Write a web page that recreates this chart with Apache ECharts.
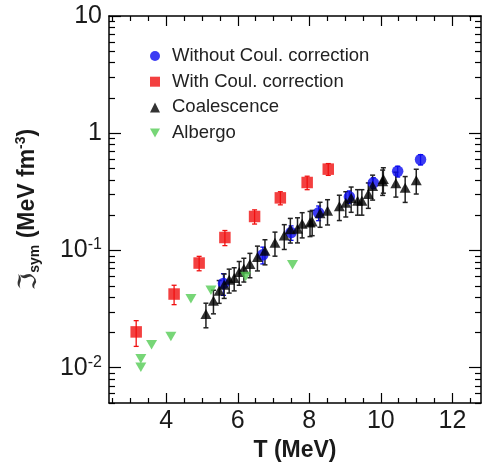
<!DOCTYPE html>
<html>
<head>
<meta charset="utf-8">
<script src="https://cdn.jsdelivr.net/npm/echarts@6/dist/echarts.min.js"></script>
<style>
  html, body { margin: 0; padding: 0; background: #fff; }
  #chart { width: 482px; height: 463px; }
</style>
</head>
<body>
<div id="chart"></div>
<script>
// Temperature T (MeV) and symmetry-energy density values (MeV fm^-3)
const blueT   = [5.60, 6.70, 7.49, 8.26, 9.12, 9.79, 10.47, 11.11];
const blueVal = [0.0524, 0.0918, 0.142, 0.2095, 0.287, 0.377, 0.473, 0.596];
const blueErr = [0.011, 0.015, 0.02, 0.03, 0.035, 0.04, 0.05, 0.06];

const redT   = [3.16, 4.22, 4.92, 5.64, 6.47, 7.19, 7.94, 8.53];
const redVal = [0.0202, 0.0425, 0.0781, 0.129, 0.195, 0.281, 0.380, 0.494];
const redErr = [0.005, 0.008, 0.011, 0.019, 0.027, 0.036, 0.05, 0.057];

const blackT   = [5.11, 5.32, 5.48, 5.62, 5.76, 5.90, 6.04, 6.17, 6.34, 6.55, 6.76, 7.04,
                  7.30, 7.47, 7.67, 7.80, 8.02, 8.08, 8.30, 8.51, 8.84, 9.02, 9.17, 9.35,
                  9.47, 9.65, 9.77, 10.05, 10.07, 10.42, 10.68, 10.99];
const blackVal = [0.0287, 0.0373, 0.0454, 0.0510, 0.0563, 0.0582, 0.0655, 0.0698, 0.0765, 0.0879, 0.0994, 0.1164,
                  0.134, 0.1517, 0.153, 0.169, 0.1733, 0.1767, 0.2076, 0.218, 0.238, 0.255, 0.2796, 0.265,
                  0.265, 0.3027, 0.354, 0.390, 0.408, 0.3753, 0.342, 0.398];
const blackErr = [0.0068, 0.0085, 0.010, 0.012, 0.013, 0.013, 0.015, 0.016, 0.018, 0.021, 0.024, 0.027,
                  0.032, 0.036, 0.037, 0.041, 0.042, 0.043, 0.05, 0.053, 0.058, 0.062, 0.068, 0.065,
                  0.065, 0.074, 0.085, 0.095, 0.10, 0.09, 0.085, 0.095];

const greenT   = [3.29, 3.29, 3.59, 4.13, 4.69, 5.25, 6.22, 7.53];
const greenVal = [0.0119, 0.0101, 0.0157, 0.0185, 0.0387, 0.0458, 0.060, 0.0755];

const seriesNames = ['Without Coul. correction', 'With Coul. correction', 'Coalescence', 'Albergo'];

// Axis ticks
const xMajor = [4, 6, 8, 10, 12];
const xMinor = [2.5, 3, 3.5, 4.5, 5, 5.5, 6.5, 7, 7.5, 8.5, 9, 9.5, 10.5, 11, 11.5, 12.5];
const yMajor = [0.01, 0.1, 1, 10];
const yMinor = [0.005, 0.006, 0.007, 0.008, 0.009,
                0.02, 0.03, 0.04, 0.05, 0.06, 0.07, 0.08, 0.09,
                0.2, 0.3, 0.4, 0.5, 0.6, 0.7, 0.8, 0.9,
                2, 3, 4, 5, 6, 7, 8, 9];
const yMajorLabels = { '-2': '10{p|-2}', '-1': '10{p|-1}', '0': '1', '1': '10' };

const FONT = 'Liberation Sans, Arial, Helvetica, sans-serif';
const X_MIN = 2.4, X_MAX = 12.8, Y_MIN = 0.005, Y_MAX = 10;

const pts = (xs, ys) => xs.map((x, i) => [x, ys[i]]);
const errPts = (xs, ys, es) => xs.map((x, i) => [x, ys[i] - es[i], ys[i] + es[i]]);

function errorBars(color, cap, width) {
  return function (params, api) {
    const x = api.value(0);
    const lo = api.coord([x, api.value(1)]);
    const hi = api.coord([x, api.value(2)]);
    const style = { stroke: color, lineWidth: width };
    return {
      type: 'group',
      children: [
        { type: 'line', shape: { x1: lo[0], y1: lo[1], x2: hi[0], y2: hi[1] }, style },
        { type: 'line', shape: { x1: lo[0] - cap, y1: lo[1], x2: lo[0] + cap, y2: lo[1] }, style },
        { type: 'line', shape: { x1: hi[0] - cap, y1: hi[1], x2: hi[0] + cap, y2: hi[1] }, style }
      ]
    };
  };
}

const lineStyle = { color: '#000', width: 1.5 };

function xAxisDef(position, ticks, len, withLabels, showLine) {
  return {
    type: 'value', min: X_MIN, max: X_MAX, position,
    axisLine: { show: showLine, onZero: false, lineStyle },
    axisTick: { show: true, inside: true, length: len, customValues: ticks, lineStyle: { color: '#000', width: 1.2 } },
    axisLabel: withLabels ? {
      show: true, customValues: ticks, margin: 6, fontSize: 25, color: '#1a1a1a', fontFamily: FONT
    } : { show: false },
    splitLine: { show: false }
  };
}

function yAxisDef(position, ticks, len, withLabels, showLine) {
  return {
    type: 'log', logBase: 10, min: Y_MIN, max: Y_MAX, position,
    axisLine: { show: showLine, onZero: false, lineStyle },
    axisTick: { show: true, inside: true, length: len, customValues: ticks, lineStyle: { color: '#000', width: 1.2 } },
    axisLabel: withLabels ? {
      show: true, customValues: ticks, margin: 7, fontSize: 25, lineHeight: 27,
      color: '#1a1a1a', fontFamily: FONT,
      formatter: v => yMajorLabels[String(Math.round(Math.log10(v)))],
      rich: { p: { fontSize: 16, lineHeight: 16, verticalAlign: 'top', color: '#1a1a1a', fontFamily: FONT } }
    } : { show: false },
    splitLine: { show: false },
    minorTick: { show: false }
  };
}

const xAxes = [
  xAxisDef('bottom', xMajor, 10, true, true),
  xAxisDef('bottom', xMinor, 5, false, false),
  xAxisDef('top', xMajor, 10, false, true),
  xAxisDef('top', xMinor, 5, false, false)
];
Object.assign(xAxes[0], {
  name: 'T (MeV)', nameLocation: 'middle', nameGap: 26,
  nameTextStyle: { fontSize: 23, fontWeight: 'bold', color: '#1a1a1a', fontFamily: FONT }
});

const yAxes = [
  yAxisDef('left', yMajor, 12, true, true),
  yAxisDef('left', yMinor, 6, false, false),
  yAxisDef('right', yMajor, 12, false, true),
  yAxisDef('right', yMinor, 6, false, false)
];
Object.assign(yAxes[0], {
  name: '{f|\u2111}{s|sym} (MeV fm{p|-3})', nameLocation: 'middle', nameRotate: 90, nameGap: 67,
  nameTextStyle: {
    fontSize: 23, fontWeight: 'bold', color: '#1a1a1a', fontFamily: FONT, lineHeight: 28,
    rich: {
      f: { fontSize: 25, lineHeight: 28, fontWeight: 'normal', fontFamily: 'DejaVu Sans', color: '#333', verticalAlign: 'bottom' },
      s: { fontSize: 14, lineHeight: 14, fontWeight: 'bold', fontFamily: FONT, color: '#1a1a1a', verticalAlign: 'bottom' },
      p: { fontSize: 14, lineHeight: 14, fontWeight: 'bold', fontFamily: FONT, color: '#1a1a1a', verticalAlign: 'top' }
    }
  }
});

const BLUE = '#0a0af0', RED = '#f01010', BLACK = '#000000', GREEN = '#55cc55';
const DOWN_TRIANGLE = 'path://M0,0L10,0L5,9Z';

const option = {
  animation: false,
  backgroundColor: '#ffffff',
  grid: { left: 109, right: 1, top: 16, bottom: 60, containLabel: false, outerBoundsMode: 'none' },
  xAxis: xAxes,
  yAxis: yAxes,
  legend: {
    orient: 'vertical', left: 145, top: 41,
    itemWidth: 10, itemHeight: 10, itemGap: 5.7,
    textStyle: { fontSize: 18.5, lineHeight: 20, color: '#222', fontFamily: FONT, padding: [0, 0, 0, 7] },
    data: [
      { name: seriesNames[0], icon: 'circle' },
      { name: seriesNames[1], icon: 'rect' },
      { name: seriesNames[2], icon: 'triangle' },
      { name: seriesNames[3], icon: DOWN_TRIANGLE }
    ]
  },
  series: [
    { type: 'custom', data: errPts(blueT, blueVal, blueErr), renderItem: errorBars(BLUE, 2.5, 1.3), silent: true },
    { name: seriesNames[0], type: 'scatter', data: pts(blueT, blueVal), symbol: 'circle', symbolSize: 11.5, itemStyle: { color: BLUE } },
    { type: 'custom', data: errPts(redT, redVal, redErr), renderItem: errorBars(RED, 2.5, 1.3), silent: true },
    { name: seriesNames[1], type: 'scatter', data: pts(redT, redVal), symbol: 'rect', symbolSize: 11.5, itemStyle: { color: RED } },
    { type: 'custom', data: errPts(blackT, blackVal, blackErr), renderItem: errorBars('#222', 2.5, 1.5), silent: true },
    { name: seriesNames[2], type: 'scatter', data: pts(blackT, blackVal), symbol: 'triangle', symbolSize: [11, 10], itemStyle: { color: BLACK } },
    { name: seriesNames[3], type: 'scatter', data: pts(greenT, greenVal), symbol: DOWN_TRIANGLE, symbolSize: [11, 9.5], itemStyle: { color: GREEN } }
  ]
};

const chart = echarts.init(document.getElementById('chart'), null, { renderer: 'canvas' });
chart.setOption(option);
</script>
</body>
</html>
